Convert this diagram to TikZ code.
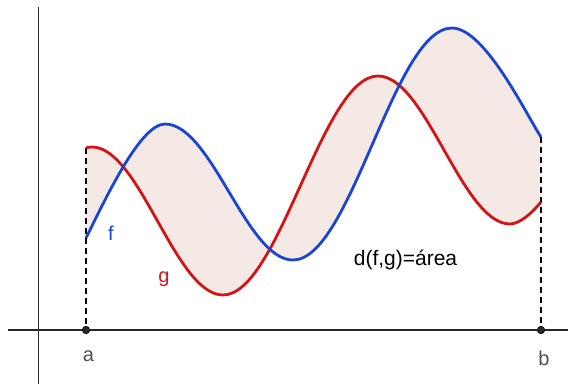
\documentclass[tikz,border=0pt]{standalone}
\usepackage{fontspec}
\setmainfont{Liberation Sans}
\definecolor{fblue}{RGB}{25,68,215}
\definecolor{gred}{RGB}{212,20,20}
\definecolor{areafill}{RGB}{245,233,230}
\definecolor{axisc}{RGB}{40,40,40}
\definecolor{labc}{RGB}{80,80,80}
\tikzset{
  axisline/.style={draw=axisc, line width=1.3pt},
  curvef/.style={draw=fblue, line width=2.8pt},
  curveg/.style={draw=gred, line width=2.8pt},
  guide/.style={draw=black, line width=1.4pt, dash pattern=on 6pt off 4pt},
  endpt/.style={circle, fill=axisc, draw=black, line width=0.6pt, inner sep=0pt, minimum size=7.5pt},
  lab/.style={font=\fontsize{20}{24}\selectfont, inner sep=0pt, anchor=base},
}
\begin{document}
\begin{tikzpicture}[x=1pt, y=-1pt]
\useasboundingbox (0,0) rectangle (568,384);
% shaded area between curves
\fill[areafill] (86,238) .. controls (105,200) and (140,124) .. (165,124)
  .. controls (211.6,124) and (246.4,260) .. (293,260)
  .. controls (351,260) and (394,28) .. (452,28)
  .. controls (485,28) and (527,116) .. (541,137)
  -- (541,202)
  .. controls (533,212) and (520,224) .. (510,224)
  .. controls (462,224) and (426,76) .. (378,76)
  .. controls (322,76) and (279,295) .. (223,295)
  .. controls (175.3,295) and (139.7,147) .. (92,147)
  .. controls (89,147) and (87.5,147.5) .. (86,148) -- cycle;
% axes
\coordinate (yt) at (38.5,7);
\coordinate (yb) at (38.5,384);
\coordinate (xl) at (8,330);
\coordinate (xr) at (568,330);
\draw[axisline] (yt) -- (yb);
\draw[axisline] (xl) -- (xr);
% endpoints
\coordinate (fa) at (86,238);
\coordinate (ga) at (86,148);
\coordinate (fb) at (541,137);
\coordinate (gb) at (541,202);
\node[endpt] (a) at (86,330) {};
\node[endpt] (b) at (541,330) {};
\draw[guide] (ga) -- (a);
\draw[guide] (fb) -- (b);
% curves
\draw[curveg] (ga) .. controls (87.5,147.5) and (89,147) .. (92,147)
  .. controls (139.7,147) and (175.3,295) .. (223,295)
  .. controls (279,295) and (322,76) .. (378,76)
  .. controls (426,76) and (462,224) .. (510,224)
  .. controls (520,224) and (533,212) .. (gb);
\draw[curvef] (fa) .. controls (105,200) and (140,124) .. (165,124)
  .. controls (211.6,124) and (246.4,260) .. (293,260)
  .. controls (351,260) and (394,28) .. (452,28)
  .. controls (485,28) and (527,116) .. (fb);
% labels
\node[lab, text=fblue] (flab) at (111,240) {f};
\node[lab, text=gred] (glab) at (164,282) {g};
\node[lab, text=labc] (alab) at (88.5,361) {a};
\node[lab, text=labc] (blab) at (544,365) {b};
\node[lab, text=black, font=\fontsize{21}{25}\selectfont] (dlab) at (405.5,265) {d(f,g)=área};
\end{tikzpicture}
\end{document}
